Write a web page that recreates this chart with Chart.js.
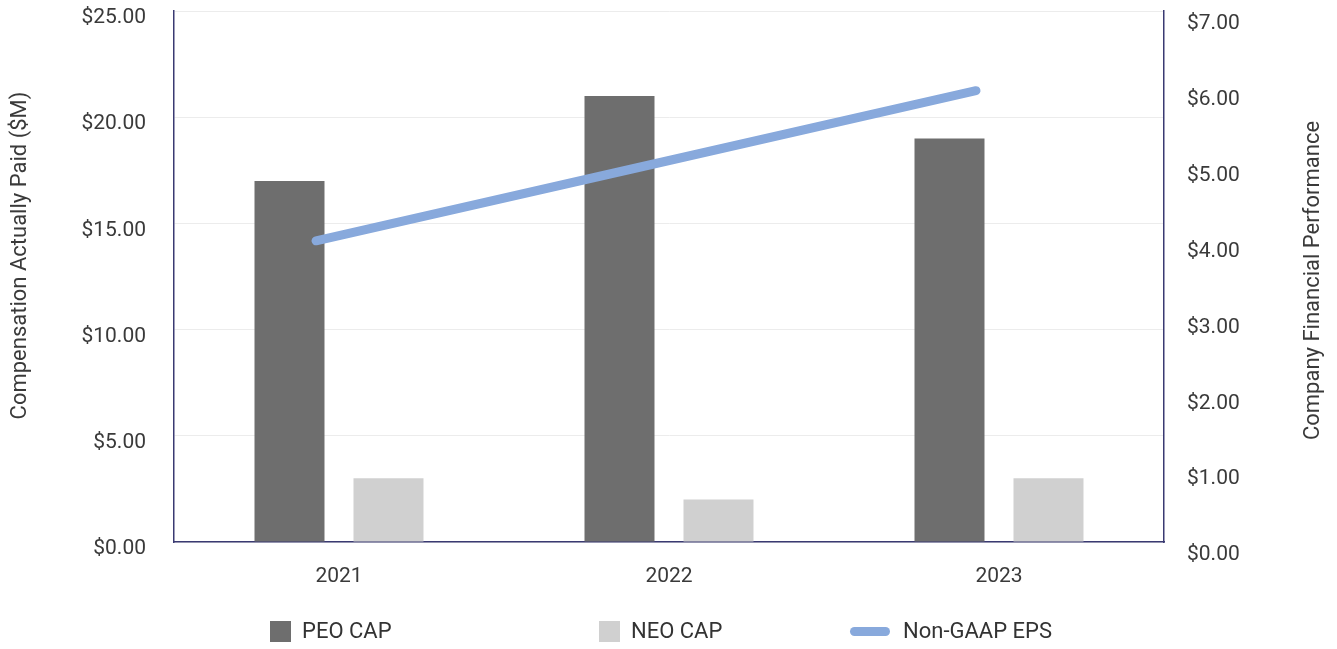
<!DOCTYPE html>
<html>
<head>
<meta charset="utf-8">
<script src="https://cdn.jsdelivr.net/npm/chart.js@4"></script>
<style>
  body { margin: 0; background: #fff; }
  #wrap { position: relative; width: 1337px; height: 649px; }
  .leg { position: absolute; font: 22px Roboto, sans-serif; color: #333; line-height: 26px; top: 618px; }
  .sw { position: absolute; }
</style>
</head>
<body>
<div id="wrap">
  <canvas id="capChart" width="1337" height="649"></canvas>
  <div class="sw" style="left:270px;top:621px;width:21px;height:21px;background:#6e6e6e"></div>
  <div class="leg" style="left:302px">PEO CAP</div>
  <div class="sw" style="left:599px;top:621px;width:21px;height:21px;background:#d0d0d0"></div>
  <div class="leg" style="left:631px">NEO CAP</div>
  <div class="sw" style="left:850px;top:627px;width:40px;height:9px;border-radius:5px;background:#88a9dc"></div>
  <div class="leg" style="left:903px">Non-GAAP EPS</div>
</div>
<script>
const years = ['2021', '2022', '2023'];
const peoCap = [17.0, 21.0, 19.0];
const neoCap = [3.0, 2.0, 3.0];
const nonGaapEps = [3.97, 4.96, 5.95];

const fontFamily = 'Roboto, sans-serif';
const textColor = '#3a3a3a';
const axisColor = '#3a3a72';

// both axis titles read bottom-to-top, so draw them ourselves
const axisTitles = {
  id: 'axisTitles',
  afterDraw(chart) {
    const c = chart.ctx;
    const midY = (chart.chartArea.top + chart.chartArea.bottom) / 2;
    c.save();
    c.fillStyle = textColor;
    c.font = '22px ' + fontFamily;
    c.textAlign = 'center';
    c.textBaseline = 'middle';
    [['Compensation Actually Paid ($M)', 20, midY - 21],
     ['Company Financial Performance', 1313, midY + 4]].forEach(([t, x, y]) => {
      c.save();
      c.translate(x, y);
      c.rotate(-Math.PI / 2);
      c.fillText(t, 0, 0);
      c.restore();
    });
    c.restore();
  },
};

// in the original the EPS line sits a bit left of the category centres
const lineShift = {
  id: 'lineShift',
  beforeDatasetDraw(chart, args) {
    if (args.meta.type !== 'line') return;
    chart.ctx.save();
    chart.ctx.translate(-23, 0);
  },
  afterDatasetDraw(chart, args) {
    if (args.meta.type !== 'line') return;
    chart.ctx.restore();
  },
};

const ctx = document.getElementById('capChart').getContext('2d');

new Chart(ctx, {
  type: 'bar',
  data: {
    labels: years,
    datasets: [
      {
        type: 'line',
        label: 'Non-GAAP EPS',
        data: nonGaapEps,
        yAxisID: 'y1',
        borderColor: '#88a9dc',
        borderWidth: 9,
        borderCapStyle: 'round',
        pointRadius: 0,
        fill: false,
        order: 0,
      },
      {
        type: 'bar',
        label: 'PEO CAP',
        data: peoCap,
        backgroundColor: '#6e6e6e',
        yAxisID: 'y',
        order: 1,
      },
      {
        type: 'bar',
        label: 'NEO CAP',
        data: neoCap,
        backgroundColor: '#d0d0d0',
        yAxisID: 'y',
        order: 1,
      },
    ],
  },
  options: {
    responsive: false,
    animation: false,
    categoryPercentage: 0.6,
    barPercentage: 0.707,
    layout: {padding: {top: 11, left: 0, right: 0, bottom: 0}},
    plugins: {
      legend: {display: false},
      tooltip: {enabled: false},
    },
    scales: {
      x: {
        grid: {display: false, drawTicks: false},
        border: {color: axisColor, width: 1.5},
        ticks: {color: textColor, font: {family: fontFamily, size: 21}, padding: 22},
        afterFit: (scale) => { scale.height = 107; },
      },
      y: {
        position: 'left',
        min: 0,
        max: 25,
        ticks: {
          stepSize: 5,
          color: textColor,
          font: {family: fontFamily, size: 21},
          padding: 28,
          labelOffset: 7,
          callback: (v) => '$' + v.toFixed(2),
        },
        grid: {color: '#ececec', drawTicks: false},
        border: {color: axisColor, width: 1.5},
        afterFit: (scale) => {
          scale.width = 174;
          scale.paddingTop = 0;
          scale.paddingBottom = 0;
        },
      },
      y1: {
        position: 'right',
        min: 0,
        max: 7,
        ticks: {
          stepSize: 1,
          color: textColor,
          font: {family: fontFamily, size: 21},
          padding: 23,
          labelOffset: 13,
          callback: (v) => '$' + v.toFixed(2),
        },
        grid: {display: false, drawTicks: false},
        border: {color: axisColor, width: 1.5},
        afterFit: (scale) => {
          scale.width = 173;
          scale.paddingTop = 0;
          scale.paddingBottom = 0;
        },
      },
    },
  },
  plugins: [axisTitles, lineShift],
});
</script>
</body>
</html>
